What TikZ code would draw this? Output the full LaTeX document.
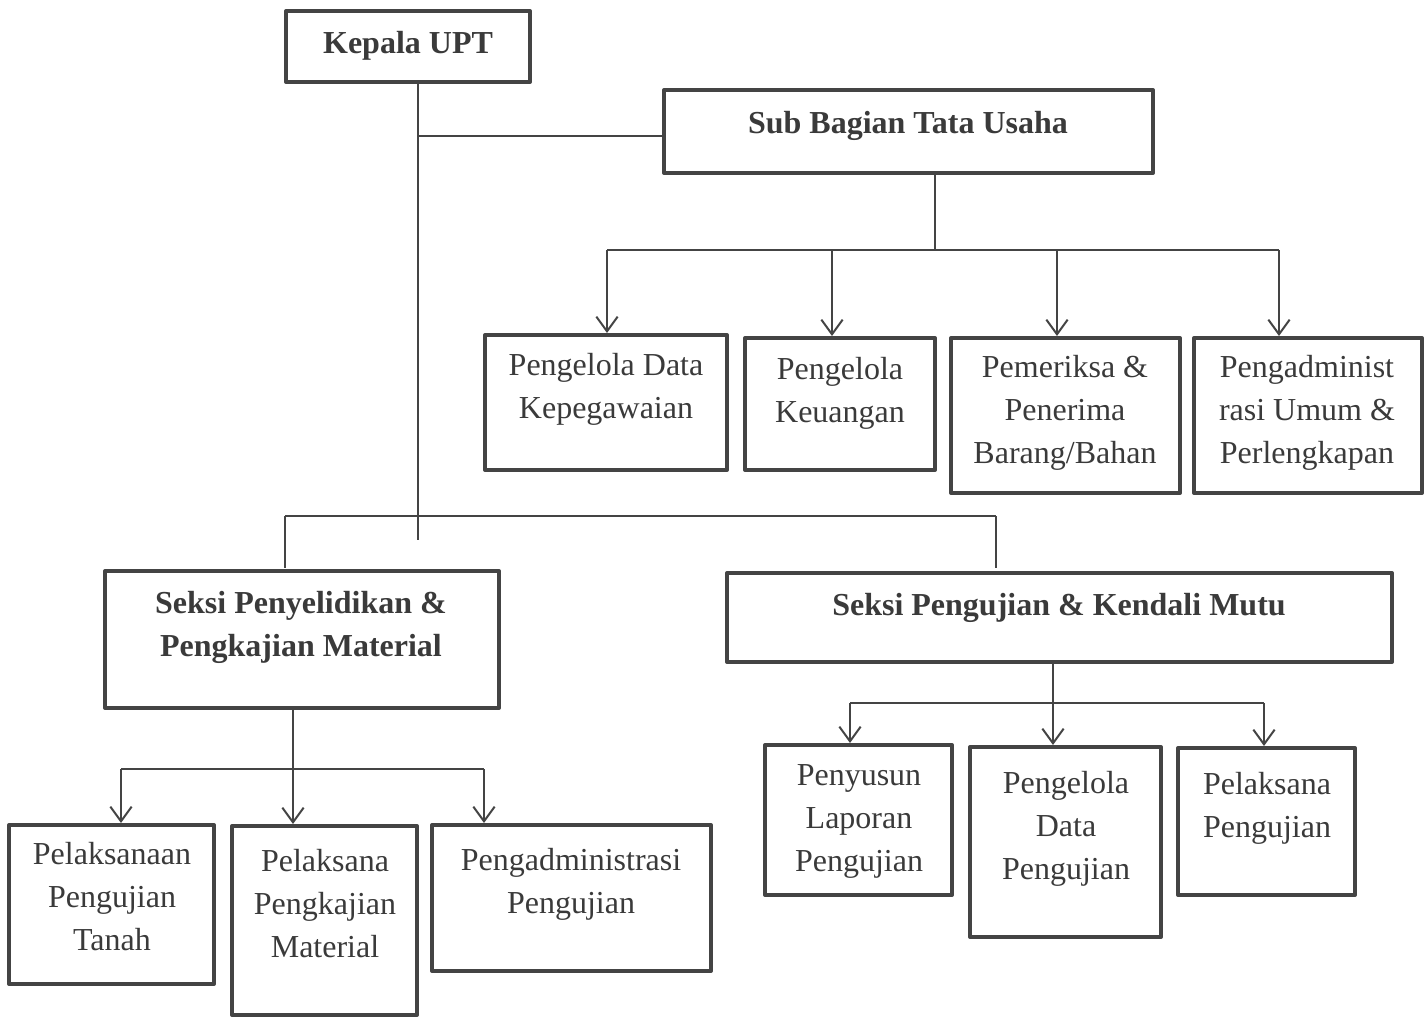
\documentclass[tikz,border=0pt]{standalone}
\usepackage{fontspec}
\setmainfont{Liberation Serif}
\usetikzlibrary{arrows.meta}
\definecolor{ink}{RGB}{68,68,68}
\definecolor{txtc}{RGB}{58,58,58}
\tikzset{
  orgbox/.style={draw=ink, line width=3pt, line join=round, inner sep=0pt, outer sep=0pt, fill=none},
  lbl/.style={text=txtc, align=center, inner sep=0pt, anchor=base, font=\fontsize{24}{31.9}\selectfont},
  blbl/.style={lbl, font=\fontsize{24}{31.9}\selectfont\bfseries},
  conn/.style={draw=ink, line width=1.5pt},
  arr/.style={conn, -{Straight Barb[length=11pt,width=16pt,line width=1.5pt]}}
}
\begin{document}
\begin{tikzpicture}[x=0.75pt,y=-0.75pt]
\useasboundingbox (0,0) rectangle (1425,1017);
% boxes
\node[orgbox, minimum width=183pt, minimum height=53.25pt] (kep) at (408,46.5) {};
\node[orgbox, minimum width=366.75pt, minimum height=62.25pt] (sub) at (908.5,131.5) {};
\node[orgbox, minimum width=181.5pt, minimum height=101.25pt] (b1) at (606,402.5) {};
\node[orgbox, minimum width=142.5pt, minimum height=99pt] (b2) at (840,404) {};
\node[orgbox, minimum width=171.75pt, minimum height=116.25pt] (b3) at (1065.5,415.5) {};
\node[orgbox, minimum width=171pt, minimum height=116.25pt] (b4) at (1308,415.5) {};
\node[orgbox, minimum width=295.5pt, minimum height=102.75pt] (spen) at (302,639.5) {};
\node[orgbox, minimum width=498.75pt, minimum height=66.75pt] (speng) at (1059.5,617.5) {};
\node[orgbox, minimum width=153.75pt, minimum height=119.25pt] (c1) at (111.5,904.5) {};
\node[orgbox, minimum width=138.75pt, minimum height=141.75pt] (c2) at (324.5,920.5) {};
\node[orgbox, minimum width=209.25pt, minimum height=109.5pt] (c3) at (571.5,898) {};
\node[orgbox, minimum width=140.25pt, minimum height=112.5pt] (d1) at (858.5,820) {};
\node[orgbox, minimum width=143.25pt, minimum height=142.5pt] (d2) at (1065.5,842) {};
\node[orgbox, minimum width=132.75pt, minimum height=110.25pt] (d3) at (1266.5,821.5) {};
% texts (anchor=base is the baseline of the last line)
\node[blbl] (kept) at (408,53) {Kepala UPT};
\node[blbl] (subt) at (908,133) {Sub Bagian Tata Usaha};
\node[lbl] (b1t) at (606,418) {Pengelola Data\\Kepegawaian};
\node[lbl] (b2t) at (840,422) {Pengelola\\Keuangan};
\node[lbl] (b3t) at (1065,463) {Pemeriksa \&\\Penerima\\Barang/Bahan};
\node[lbl] (b4t) at (1307,463) {Pengadminist\\rasi Umum \&\\Perlengkapan};
\node[blbl] (spent) at (301,656) {Seksi Penyelidikan \&\\Pengkajian Material};
\node[blbl] (spengt) at (1059,615) {Seksi Pengujian \& Kendali Mutu};
\node[lbl] (c1t) at (112,950) {Pelaksanaan\\Pengujian\\Tanah};
\node[lbl] (c2t) at (325,957) {Pelaksana\\Pengkajian\\Material};
\node[lbl] (c3t) at (571,913) {Pengadministrasi\\Pengujian};
\node[lbl] (d1t) at (859,871) {Penyusun\\Laporan\\Pengujian};
\node[lbl] (d2t) at (1066,879) {Pengelola\\Data\\Pengujian};
\node[lbl] (d3t) at (1267,837) {Pelaksana\\Pengujian};
% connector coordinates
\coordinate (trunk) at (418,540);
\coordinate (subj) at (418,136);
\coordinate (sbus) at (935,250);
\coordinate (a1) at (607,250);
\coordinate (a2) at (832,250);
\coordinate (a3) at (1057,250);
\coordinate (a4) at (1279,250);
\coordinate (l3a) at (285,516);
\coordinate (l3b) at (996,516);
\coordinate (pbus) at (293,769);
\coordinate (p1) at (121,769);
\coordinate (p3) at (484,769);
\coordinate (qbus) at (1053,703);
\coordinate (q1) at (850,703);
\coordinate (q3) at (1264,703);
% connectors
\draw[conn] (kep.south -| trunk) -- (trunk);
\draw[conn] (subj) -- (subj -| sub.west);
\draw[conn] (sub.south -| sbus) -- (sbus);
\draw[conn] (a1) -- (a4);
\draw[arr] (a1) -- ([yshift=1.5pt]a1 |- b1.north);
\draw[arr] (a2) -- ([yshift=1.5pt]a2 |- b2.north);
\draw[arr] (a3) -- ([yshift=1.5pt]a3 |- b3.north);
\draw[arr] (a4) -- ([yshift=1.5pt]a4 |- b4.north);
\draw[conn] (l3a) -- (l3b);
\draw[conn] (l3a) -- ([yshift=2.5pt]l3a |- spen.north);
\draw[conn] (l3b) -- ([yshift=3.5pt]l3b |- speng.north);
\draw[conn] (spen.south -| pbus) -- (pbus);
\draw[conn] (p1) -- (p3);
\draw[arr] (pbus) -- ([yshift=1.5pt]pbus |- c2.north);
\draw[arr] (p1) -- ([yshift=1.5pt]p1 |- c1.north);
\draw[arr] (p3) -- ([yshift=1.5pt]p3 |- c3.north);
\draw[conn] (speng.south -| qbus) -- (qbus);
\draw[conn] (q1) -- (q3);
\draw[arr] (qbus) -- ([yshift=1.5pt]qbus |- d2.north);
\draw[arr] (q1) -- ([yshift=1.5pt]q1 |- d1.north);
\draw[arr] (q3) -- ([yshift=1.5pt]q3 |- d3.north);
\end{tikzpicture}
\end{document}
